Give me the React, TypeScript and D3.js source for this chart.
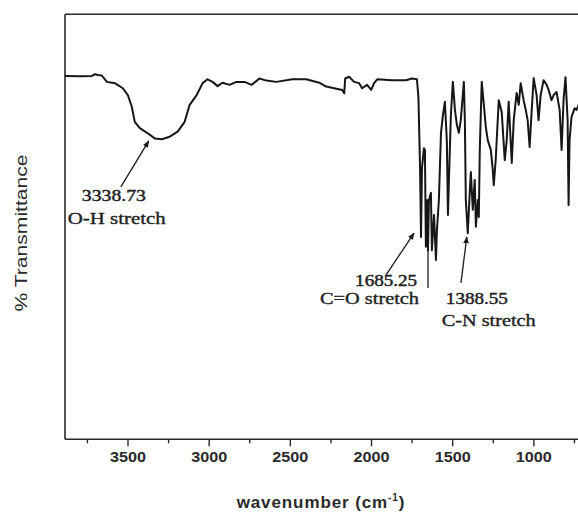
import React, { useEffect, useRef } from 'react';
import * as d3 from 'd3';

// FTIR spectrum: wavenumber (cm^-1) and % transmittance
const wavenumber = [
  3885, 3793, 3719, 3701, 3682, 3658, 3627, 3578, 3529, 3498, 3474, 3455, 3424, 3375, 3332, 3289,
  3240, 3191, 3148, 3117, 3074, 3037, 3007, 2976, 2945, 2915, 2872, 2829, 2779, 2736, 2687, 2644,
  2583, 2485, 2399, 2319, 2276, 2177, 2165, 2159, 2135, 2104, 2073, 2055, 2024, 1999, 1981, 1962,
  1870, 1784, 1748, 1717,
  1708, 1698, 1692, 1686, 1674, 1668, 1662, 1655, 1649, 1643, 1631, 1625, 1612, 1600, 1594, 1582,
  1569, 1557, 1545, 1533, 1526, 1520, 1508, 1496, 1483, 1471, 1459, 1447, 1428, 1422, 1416, 1404,
  1391, 1385, 1373, 1361, 1354, 1342, 1336, 1330, 1318, 1305, 1293, 1281, 1262, 1250, 1244, 1232,
  1213, 1195, 1176, 1164, 1152, 1133, 1121, 1103, 1090, 1078, 1060, 1047, 1035, 1023, 1010, 998,
  980, 968, 955, 937, 918, 906, 888, 875, 857, 838, 826, 814, 802, 789, 783, 777, 765, 746, 734, 709,
];
const transmittance = [
  85.5, 85.4, 85.5, 85.9, 85.7, 85.6, 84.1, 83.8, 82.6, 81.0, 78.3, 74.7, 73.2, 72.0, 70.8, 70.6,
  71.2, 72.4, 74.7, 78.7, 81.0, 83.8, 84.7, 84.1, 83.1, 83.9, 83.4, 84.1, 84.1, 83.4, 84.9, 84.4,
  84.1, 84.7, 84.7, 83.9, 83.0, 82.2, 81.4, 84.9, 85.3, 84.1, 83.8, 82.6, 83.4, 82.2, 83.8, 84.7,
  84.5, 84.5, 84.9, 84.7,
  80.5, 64.1, 47.6, 63.8, 68.5, 68.1, 45.3, 56.3, 44.5, 56.3, 58.0, 44.5, 52.8, 42.2, 49.2, 56.3,
  72.1, 76.3, 79.4, 70.4, 52.8, 61.0, 76.3, 84.1, 77.5, 74.0, 72.1, 75.1, 84.1, 75.1, 56.3, 48.5,
  58.7, 62.9, 54.0, 61.0, 50.0, 56.3, 52.3, 68.1, 84.1, 78.7, 73.5, 70.4, 68.1, 63.4, 59.8, 65.7,
  79.8, 77.0, 65.7, 70.4, 79.4, 65.0, 75.1, 81.5, 78.7, 83.8, 79.8, 77.5, 75.1, 68.8, 77.5, 85.0,
  81.0, 75.1, 81.0, 84.5, 83.4, 82.2, 79.8, 81.0, 81.7, 77.5, 68.1, 79.8, 85.2, 75.1, 55.1, 70.4, 75.8, 77.9, 77.5, 79.8,
];

const majorTicks = [3500, 3000, 2500, 2000, 1500, 1000];
const minorTicks = [3750, 3250, 2750, 2250, 1750, 1250, 750];

// Peak annotations (anchors in wavenumber / % transmittance units)
const peakValues = ['3338.73', '1685.25', '1388.55'];
const peakGroups = ['O-H stretch', 'C=O stretch', 'C-N stretch'];
const valueAnchor = [[3584, 56.1], [1907, 36.1], [1348, 31.8]];
const groupAnchor = [[3566, 50.7], [2009, 31.8], [1275, 26.6]];
const arrowTail = [[3541, 59.4], [1907, 38.7], [1446, 36.8]];
const arrowHead = [[3369, 70.2], [1735, 48.5], [1410, 47.6]];
const peakMarker = [1649, 44.5, 35.6];

const W = 578;
const H = 515;
const left = 65;
const top = 14.3;
const bottom = 439.3;

export default function App() {
  const axisRef = useRef<SVGGElement>(null);

  const x = d3.scaleLinear().domain([3885, 725]).range([left, W]);
  const y = d3.scaleLinear().domain([0, 100]).range([bottom, top]);

  const line = d3
    .line<number>()
    .x((_, i) => x(wavenumber[i]))
    .y((d) => y(d))
    .curve(d3.curveLinear);

  useEffect(() => {
    if (!axisRef.current) return;
    const g = d3.select(axisRef.current);
    g.selectAll('*').remove();
    const major = g.append('g').call(
      d3.axisBottom(x).tickValues(majorTicks).tickSize(7).tickPadding(5).tickFormat(d3.format('d'))
    );
    major.select('.domain').remove();
    major
      .selectAll('text')
      .attr('font-family', 'Liberation Sans, Arial, sans-serif')
      .attr('font-size', 15)
      .attr('font-weight', 'bold')
      .attr('fill', '#2a2a2a')
      .attr('textLength', 36)
      .attr('lengthAdjust', 'spacingAndGlyphs');
    major.selectAll('line').attr('stroke', '#2a2a2a').attr('stroke-width', 1.4);
    const minor = g.append('g').call(
      d3.axisBottom(x).tickValues(minorTicks).tickSize(4).tickFormat(() => '')
    );
    minor.select('.domain').remove();
    minor.selectAll('line').attr('stroke', '#2a2a2a').attr('stroke-width', 1.4);
  }, []);

  const serif = 'Liberation Serif, Times New Roman, serif';
  const valueLen = [64, 62, 62];
  const groupLen = [98, 99, 94];

  return (
    <svg
      width={W}
      height={H}
      style={{ position: 'absolute', left: 0, top: 0, background: '#fff' }}
    >
      <defs>
        <clipPath id="plot-clip">
          <rect x={left} y={top} width={W - left} height={bottom - top} />
        </clipPath>
        <marker
          id="arrow"
          viewBox="0 0 10 10"
          refX="9"
          refY="5"
          markerWidth="7"
          markerHeight="7"
          orient="auto-start-reverse"
          markerUnits="userSpaceOnUse"
        >
          <path d="M0,1 L10,5 L0,9 Z" fill="#1a1a1a" />
        </marker>
      </defs>

      {/* frame */}
      <line x1={left} y1={top} x2={W} y2={top} stroke="#2a2a2a" strokeWidth={1.6} />
      <line x1={left} y1={top} x2={left} y2={bottom} stroke="#2a2a2a" strokeWidth={1.6} />
      <line x1={left} y1={bottom} x2={W} y2={bottom} stroke="#2a2a2a" strokeWidth={1.6} />

      <g ref={axisRef} transform={`translate(0,${bottom})`} />

      {/* spectrum */}
      <path
        d={line(transmittance) || ''}
        fill="none"
        stroke="#161616"
        strokeWidth={2}
        strokeLinejoin="round"
        clipPath="url(#plot-clip)"
      />

      {/* peak marker under the carbonyl band */}
      <line
        x1={x(peakMarker[0])}
        x2={x(peakMarker[0])}
        y1={y(peakMarker[1])}
        y2={y(peakMarker[2])}
        stroke="#1a1a1a"
        strokeWidth={1.3}
      />

      {peakValues.map((v, i) => (
        <g key={v}>
          <line
            x1={x(arrowTail[i][0])}
            y1={y(arrowTail[i][1])}
            x2={x(arrowHead[i][0])}
            y2={y(arrowHead[i][1])}
            stroke="#1a1a1a"
            strokeWidth={1.3}
            markerEnd="url(#arrow)"
          />
          <text
            x={x(valueAnchor[i][0])}
            y={y(valueAnchor[i][1])}
            textAnchor="middle"
            fontFamily={serif}
            fontSize={16}
            fill="#1e1e1e"
            stroke="#1e1e1e"
            strokeWidth={0.45}
            textLength={valueLen[i]}
            lengthAdjust="spacingAndGlyphs"
          >
            {v}
          </text>
          <text
            x={x(groupAnchor[i][0])}
            y={y(groupAnchor[i][1])}
            textAnchor="middle"
            fontFamily={serif}
            fontSize={16}
            fill="#1e1e1e"
            stroke="#1e1e1e"
            strokeWidth={0.35}
            textLength={groupLen[i]}
            lengthAdjust="spacingAndGlyphs"
          >
            {peakGroups[i]}
          </text>
        </g>
      ))}

      {/* axis titles */}
      <text
        x={321}
        y={508}
        textAnchor="middle"
        fontFamily="Liberation Sans, Arial, sans-serif"
        fontSize={17}
        fontWeight="bold"
        letterSpacing={0.9}
        fill="#2a2a2a"
      >
        wavenumber (cm
        <tspan dy={-7} fontSize={10}>-1</tspan>
        <tspan dy={7}>)</tspan>
      </text>
      <text
        transform="translate(27,233) rotate(-90)"
        textAnchor="middle"
        fontFamily="Liberation Sans, Arial, sans-serif"
        fontSize={17}
        fill="#2a2a2a"
        textLength={157}
        lengthAdjust="spacingAndGlyphs"
      >
        % Transmittance
      </text>
    </svg>
  );
}
